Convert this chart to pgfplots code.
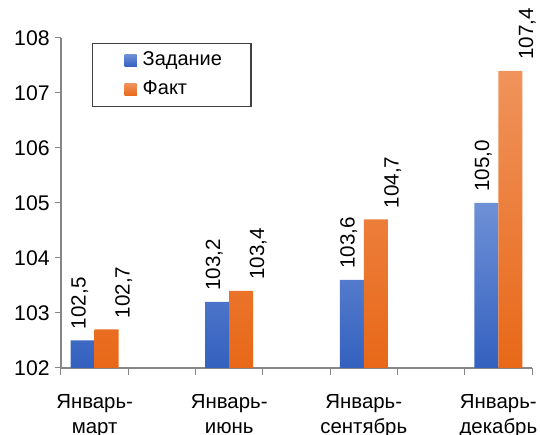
\documentclass[border=0pt]{standalone}
\usepackage{fontspec}
\setmainfont{Liberation Sans}
\usepackage{pgfplots}
\pgfplotsset{compat=1.18}

\definecolor{bluetop}{HTML}{6E90D6}
\definecolor{bluebot}{HTML}{3461BF}
\definecolor{orgtop}{HTML}{F0935C}
\definecolor{orgbot}{HTML}{E86818}
\definecolor{axgray}{HTML}{868686}

\begin{document}
\begin{tikzpicture}
\begin{axis}[
    scale only axis,
    width=235.5pt, height=165pt,
    xmin=-0.5, xmax=6.5,
    ymin=102, ymax=108,
    ytick={102,103,...,108},
    xtick={0,2,4,6},
    xticklabels={Январь-\\март, Январь-\\июнь, Январь-\\сентябрь, Январь-\\декабрь},
    minor xtick={-0.5,0.5,...,6.5},
    axis lines*=left,
    axis line style={axgray, line width=0.6pt},
    tick style={axgray, line width=0.5pt},
    tick align=outside,
    major tick length=3pt,
    minor tick length=3.5pt,
    major x tick style={draw=none},
    /pgf/number format/assume math mode=true,
    ticklabel style={font=\fontsize{10.6}{12}\selectfont},
    yticklabel style={inner sep=0pt, xshift=-2.5pt},
    xticklabel style={align=center, anchor=north, inner sep=0pt, yshift=-10pt,
        font=\fontsize{10.2}{12.6}\selectfont},
    ybar=0pt, bar width=12pt,
    clip=false,
    nodes near coords={\pgfmathprintnumber[fixed, fixed zerofill, precision=1, use comma]{\pgfplotspointmeta}},
    legend style={at={(axis description cs:0.066,0.985)}, anchor=north west,
        draw=black!75, line width=0.6pt, fill=white,
        inner xsep=14.5pt, inner ysep=1.5pt,
        font=\fontsize{10}{12}\selectfont,
        nodes={inner xsep=0pt, inner ysep=2pt, text height=7.5pt, text depth=2.5pt},
        row sep=0.5pt,
        /tikz/every odd column/.append style={column sep=3pt},
        cells={anchor=west}},
]
\addplot[draw=none, top color=bluetop, bottom color=bluebot,
    every node near coord/.append style={color=black, font=\fontsize{10.3}{12}\selectfont,
        inner sep=0pt, xshift=-1.5pt, yshift=5.5pt, rotate=90, anchor=west},
    legend image code/.code={\path (0pt,0pt) -- (1.5pt,0pt);
        \fill[color=bluebot!90!white] (1.5pt,-3pt) rectangle (7.5pt,3pt);}]
    coordinates {(0,102.5) (2,103.2) (4,103.6) (6,105.0)};
\addlegendentry{Задание}
\addplot[draw=none, top color=orgtop, bottom color=orgbot,
    every node near coord/.append style={color=black, font=\fontsize{10.3}{12}\selectfont,
        inner sep=0pt, xshift=8.5pt, yshift=5.5pt, rotate=90, anchor=west},
    legend image code/.code={\path (0pt,0pt) -- (1.5pt,0pt);
        \fill[color=orgbot!90!white] (1.5pt,-3pt) rectangle (7.5pt,3pt);}]
    coordinates {(0,102.7) (2,103.4) (4,104.7) (6,107.4)};
\addlegendentry{Факт}
\coordinate (bl) at (rel axis cs:0,0);
\coordinate (tr) at (rel axis cs:1,1);
\end{axis}
\pgfresetboundingbox
\path ([shift={(-30.5pt,-33.5pt)}]bl) rectangle ([shift={(4pt,19pt)}]tr);
\end{tikzpicture}
\end{document}
